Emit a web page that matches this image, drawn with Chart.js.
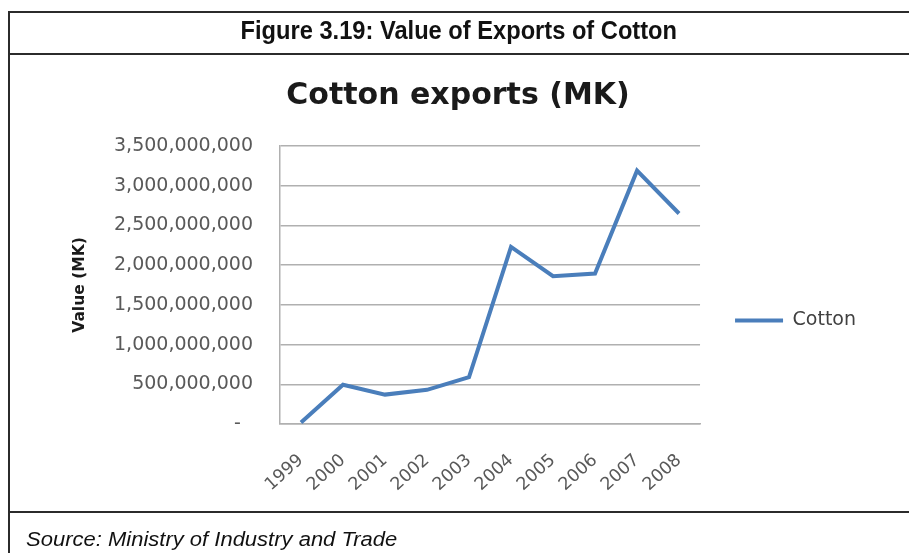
<!DOCTYPE html>
<html>
<head>
<meta charset="utf-8">
<script src="https://cdn.jsdelivr.net/npm/chart.js@4"></script>
<style>
  html, body { margin: 0; padding: 0; background: #fff; }
  body { width: 909px; height: 553px; position: relative; overflow: hidden; }
  #chart { position: absolute; left: 0; top: 0; }
  .rule { position: absolute; background: #2b2b2b; }
  #heading {
    position: absolute; left: 8px; right: 0; top: 11px; height: 40px;
    text-align: center; line-height: 38px;
    font-family: "Liberation Sans", Arial, sans-serif; font-weight: bold; font-size: 26px;
    color: #111;
  }
  #heading span { display: inline-block; transform: scaleX(0.91); transform-origin: center; }
  #source {
    position: absolute; left: 26px; top: 528px;
    font-family: "Liberation Sans", Arial, sans-serif; font-style: italic; font-size: 20px;
    color: #111; white-space: nowrap; transform: scaleX(1.1); transform-origin: left center;
  }
</style>
</head>
<body>
<canvas id="chart" width="909" height="553"></canvas>
<div class="rule" style="left:8px; top:11px; width:901px; height:2px;"></div>
<div class="rule" style="left:8px; top:11px; width:2px; height:542px;"></div>
<div class="rule" style="left:8px; top:53px; width:901px; height:2px;"></div>
<div class="rule" style="left:8px; top:511px; width:901px; height:2px;"></div>
<div id="heading"><span>Figure 3.19: Value of Exports of Cotton</span></div>
<div id="source">Source: Ministry of Industry and Trade</div>
<script>
// Cotton export values in Malawi Kwacha, 1999-2008
const years = ['1999', '2000', '2001', '2002', '2003', '2004', '2005', '2006', '2007', '2008'];
const cottonValues = [20000000, 495000000, 370000000, 430000000, 590000000,
                      2230000000, 1860000000, 1895000000, 3190000000, 2650000000];
const yTickValues = [0, 500000000, 1000000000, 1500000000, 2000000000, 2500000000, 3000000000, 3500000000];

const tickColor = '#595959';
const gridColor = '#b0b0b0';
const chartFont = 'DejaVu Sans';

// Move the legend block down so it sits level with the middle of the plot
const legendNudge = {
  id: 'legendNudge',
  afterLayout(chart, args, opts) {
    const lg = chart.legend;
    if (lg) { lg.top += opts.dy; lg.bottom += opts.dy; }
  }
};

new Chart(document.getElementById('chart'), {
  type: 'line',
  data: {
    labels: years,
    datasets: [{
      label: 'Cotton',
      data: cottonValues,
      borderColor: '#4a7ebb',
      backgroundColor: '#4a7ebb',
      borderWidth: 4,
      pointRadius: 0,
      pointHoverRadius: 0,
      tension: 0,
      fill: false
    }]
  },
  plugins: [legendNudge],
  options: {
    responsive: false,
    animation: false,
    events: [],
    layout: { padding: { left: 50, right: 43, top: 60, bottom: 10 } },
    plugins: {
      tooltip: { enabled: false },
      legendNudge: { dy: 19 },
      title: {
        display: true,
        text: 'Cotton exports (MK)',
        color: '#1a1a1a',
        font: { family: chartFont, weight: 'bold', size: 30, lineHeight: 1.2 },
        padding: { top: 18, bottom: 32 }
      },
      legend: {
        display: true,
        position: 'right',
        labels: {
          usePointStyle: true,
          pointStyle: 'line',
          pointStyleWidth: 48,
          boxHeight: 17,
          padding: 35,
          color: '#404040',
          font: { family: chartFont, size: 19 }
        }
      }
    },
    scales: {
      x: {
        type: 'category',
        offset: true,
        grid: { display: false, drawTicks: false },
        border: { display: true, color: gridColor, width: 1.5 },
        ticks: {
          color: tickColor,
          font: { family: chartFont, size: 17.5 },
          maxRotation: 42,
          minRotation: 42,
          padding: 26
        },
        afterFit: (scale) => { scale.height = 119; }
      },
      y: {
        min: 0,
        max: 3500000000,
        afterBuildTicks: (scale) => { scale.ticks = yTickValues.map(v => ({ value: v })); },
        grid: { color: gridColor, lineWidth: 1.5, drawTicks: false },
        border: { display: true, color: gridColor, width: 1.5 },
        ticks: {
          color: tickColor,
          font: { family: chartFont, size: 19 },
          padding: 27,
          callback: (v) => v === 0 ? '-  ' : Number(v).toLocaleString('en-US')
        },
        title: {
          display: true,
          text: 'Value (MK)',
          color: '#1a1a1a',
          font: { family: chartFont, weight: 'bold', size: 15.5, lineHeight: 1.2 },
          padding: { top: 21, bottom: 0 }
        },
        afterFit: (scale) => { scale.width = 230; }
      }
    }
  }
});
</script>
</body>
</html>
